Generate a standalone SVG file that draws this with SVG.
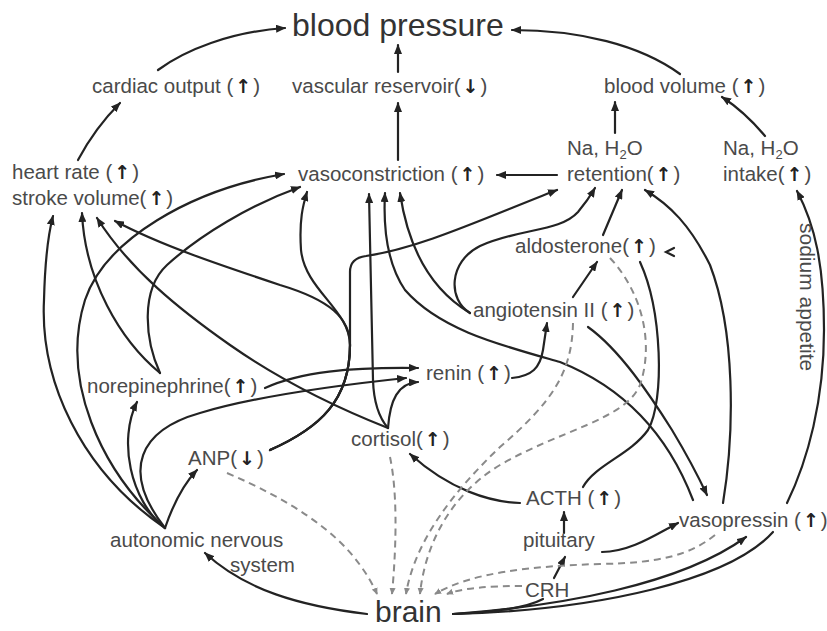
<svg xmlns="http://www.w3.org/2000/svg" width="827" height="631" viewBox="0 0 827 631">
<style>
.t{font-family:"Liberation Sans",Arial,sans-serif;font-size:20.5px;fill:#4a4a4a}
.big{font-size:32px;fill:#333}
.ar{font-family:"DejaVu Sans",sans-serif;font-weight:bold;font-size:19px;fill:#222}
.sub{font-size:13px}
.c path{fill:none;stroke:#232323;stroke-width:2.2;stroke-linecap:round}
.c path.s{marker-end:url(#a)}
.c path.d{stroke:#8a8a8a;stroke-width:2;stroke-dasharray:7 5;stroke-linecap:butt;marker-end:url(#b)}
</style>
<defs>
<marker id="a" viewBox="0 0 10 8" refX="9" refY="4" markerWidth="10" markerHeight="8" markerUnits="userSpaceOnUse" orient="auto"><path d="M0,0 L10,4 L0,8 z" fill="#232323"/></marker>
<marker id="b" viewBox="0 0 8 8" refX="7" refY="4" markerWidth="7" markerHeight="7" markerUnits="userSpaceOnUse" orient="auto"><path d="M0,0.5 L8,4 L0,7.5 z" fill="#8a8a8a"/></marker>
</defs>
<rect width="827" height="631" fill="#fff"/>

<g class="c" id="connectors">
<path class="s" d="M158,70 C185,50 230,32 285,28"/>
<path class="s" d="M398,72 L398,45"/>
<path class="s" d="M680,74 C640,45 580,30 512,30"/>
<path class="s" d="M398,160 L398,103"/>
<path class="s" d="M615,133 L615,102"/>
<path class="s" d="M765,136 Q745,112 722,97"/>
<path class="s" d="M78,160 Q95,128 120,103"/>
<path class="s" d="M557,175 L497,175"/>
<path class="s" d="M165,528 C100,470 60,380 85,300 C105,240 190,190 284,174"/>
<path class="s" d="M165,528 C80,470 40,380 44,300 C45,260 48,235 53,216"/>
<path class="s" d="M165,528 C130,500 118,440 137,402"/>
<path class="s" d="M165,528 C120,470 140,430 200,413 C260,395 340,385 406,378"/>
<path class="s" d="M165,528 Q178,490 197,470"/>
<path class="s" d="M160,373 C145,340 140,290 167,265 C200,235 250,205 300,187"/>
<path class="s" d="M160,373 C120,340 85,280 82,213"/>
<path class="s" d="M265,388 C300,372 350,367 418,368"/>
<path class="s" d="M270,450 C320,428 350,400 350,345 C350,310 305,290 301,250 C299,220 303,205 307,192"/>
<path class="s" d="M270,450 C320,428 350,400 350,345 C350,318 330,300 280,285 C220,265 160,245 115,221"/>
<path class="s" d="M270,450 C320,428 350,400 350,345 L350,272 Q350,258 366,256 C420,248 480,220 557,190"/>
<path class="s" d="M388,428 C330,405 280,380 230,345 C180,310 130,270 97,218"/>
<path class="s" d="M388,428 Q374,412 373,380 L369,194"/>
<path class="s" d="M388,428 C390,400 398,383 418,382"/>
<path class="s" d="M512,378 C532,376 540,368 543,350 L547,323"/>
<path class="s" d="M470,313 C440,295 410,260 400,193"/>
<path class="s" d="M470,313 C448,300 448,262 480,246 C520,228 560,232 578,212 Q588,200 595,188"/>
<path class="s" d="M573,297 L597,262"/>
<path class="s" d="M588,327 C620,350 650,395 672,430 C690,460 700,480 707,495"/>
<path class="s" d="M603,235 L622,190"/>
<path d="M583,487 C595,465 630,455 648,430 C665,400 662,310 640,262"/>
<path d="M674,248 L666,252 L674,256"/>
<path class="s" d="M520,503 C490,502 450,490 410,454"/>
<path class="s" d="M564,533 L564,512"/>
<path class="s" d="M602,552 C630,552 655,535 678,523"/>
<path class="s" d="M554,578 L565,557"/>
<path class="s" d="M693,500 C670,440 630,390 560,362 C500,345 440,330 405,290 C388,265 383,230 385,193"/>
<path class="s" d="M723,503 C735,430 735,330 710,265 C690,225 670,205 645,190"/>
<path class="s" d="M367,614 C300,606 245,590 205,553"/>
<path d="M453,614 C500,612 530,606 543,599"/>
<path class="s" d="M453,614 C560,606 680,585 746,537"/>
<path d="M453,614 C600,610 730,580 773,532"/>
<path class="s" d="M787,503 C808,460 824,400 824,330 C824,265 815,225 797,191"/>
<path class="d" d="M227,473 C290,500 335,530 360,565 Q371,580 377,594"/>
<path class="d" d="M390,457 C397,490 397,540 392,594"/>
<path class="d" d="M573,323 C572,370 555,400 500,447 C455,490 415,540 406,594"/>
<path class="d" d="M610,258 C640,290 655,340 640,385 C625,420 560,430 500,465 C450,495 425,545 420,594"/>
<path class="d" d="M715,535 C690,555 660,563 600,564 C530,566 470,573 435,594"/>
<path class="d" d="M522,586 C490,586 462,588 447,594"/>
</g>

<g id="blood-pressure"><text class="t big" x="292" y="36">blood pressure</text></g>
<g id="cardiac-output"><text class="t" x="92" y="93">cardiac output (<tspan class="ar" dx="2">↑</tspan><tspan dx="2">)</tspan></text></g>
<g id="vascular-reservoir"><text class="t" x="292" y="93">vascular reservoir(<tspan class="ar" dx="2">↓</tspan><tspan dx="2">)</tspan></text></g>
<g id="blood-volume"><text class="t" x="604" y="93">blood volume (<tspan class="ar" dx="2">↑</tspan><tspan dx="2">)</tspan></text></g>
<g id="heart-rate"><text class="t" x="12" y="179">heart rate (<tspan class="ar" dx="2">↑</tspan><tspan dx="2">)</tspan></text><text class="t" x="12" y="205">stroke volume(<tspan class="ar" dx="2">↑</tspan><tspan dx="2">)</tspan></text></g>
<g id="vasoconstriction"><text class="t" x="298" y="181">vasoconstriction (<tspan class="ar" dx="2">↑</tspan><tspan dx="2">)</tspan></text></g>
<g id="retention"><text class="t" x="567" y="155">Na, H<tspan class="sub" dy="4">2</tspan><tspan dy="-4">O</tspan></text><text class="t" x="567" y="181">retention(<tspan class="ar" dx="2">↑</tspan><tspan dx="2">)</tspan></text></g>
<g id="intake"><text class="t" x="723" y="155">Na, H<tspan class="sub" dy="4">2</tspan><tspan dy="-4">O</tspan></text><text class="t" x="723" y="181">intake(<tspan class="ar" dx="2">↑</tspan><tspan dx="2">)</tspan></text></g>
<g id="aldosterone"><text class="t" x="515" y="253">aldosterone(<tspan class="ar" dx="2">↑</tspan><tspan dx="2">)</tspan></text></g>
<g id="angiotensin"><text class="t" x="473" y="317">angiotensin II (<tspan class="ar" dx="2">↑</tspan><tspan dx="2">)</tspan></text></g>
<g id="renin"><text class="t" x="426" y="380">renin (<tspan class="ar" dx="2">↑</tspan><tspan dx="2">)</tspan></text></g>
<g id="norepinephrine"><text class="t" x="87" y="393">norepinephrine(<tspan class="ar" dx="2">↑</tspan><tspan dx="2">)</tspan></text></g>
<g id="cortisol"><text class="t" x="351" y="446">cortisol(<tspan class="ar" dx="2">↑</tspan><tspan dx="2">)</tspan></text></g>
<g id="anp"><text class="t" x="188" y="465">ANP(<tspan class="ar" dx="2">↓</tspan><tspan dx="2">)</tspan></text></g>
<g id="acth"><text class="t" x="526" y="505">ACTH (<tspan class="ar" dx="2">↑</tspan><tspan dx="2">)</tspan></text></g>
<g id="pituitary"><text class="t" x="523" y="547">pituitary</text></g>
<g id="vasopressin"><text class="t" x="679" y="527">vasopressin (<tspan class="ar" dx="2">↑</tspan><tspan dx="2">)</tspan></text></g>
<g id="ans"><text class="t" x="110" y="547">autonomic nervous</text><text class="t" x="230" y="572">system</text></g>
<g id="crh"><text class="t" x="525" y="597">CRH</text></g>
<g id="brain"><text class="t big" x="375" y="622" style="font-size:30px">brain</text></g>
<g id="sodium-appetite"><text class="t" transform="translate(800,223) rotate(90)" style="font-size:21px">sodium appetite</text></g>
</svg>
